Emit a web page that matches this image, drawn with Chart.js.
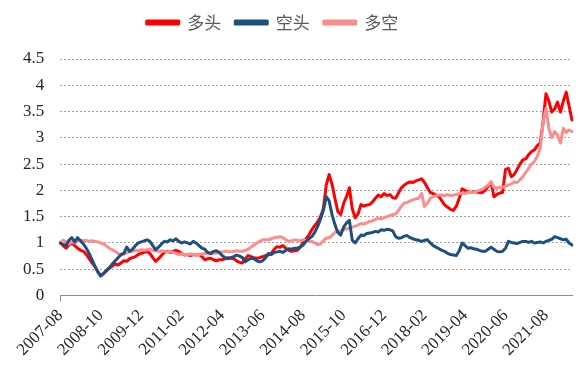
<!DOCTYPE html>
<html>
<head>
<meta charset="utf-8">
<script src="https://cdn.jsdelivr.net/npm/chart.js@4/dist/chart.umd.min.js"></script>
<style>
html,body{margin:0;padding:0;background:#fff;}
#wrap{width:579px;height:375px;position:relative;}
</style>
</head>
<body>
<div id="wrap"><canvas id="c" width="579" height="375"></canvas></div>
<script>
// Monthly categories 2007-08 .. 2022-05
const months = [];
for (let y = 2007, m = 8; months.length < 178; ) {
  months.push(y + '-' + String(m).padStart(2, '0'));
  m++; if (m > 12) { m = 1; y++; }
}
const tickEvery = 14;
const yTicks = [0, 0.5, 1, 1.5, 2, 2.5, 3, 3.5, 4, 4.5];

const longSeries = [
  1.00, 0.95, 0.90, 0.96, 1.00, 0.95, 0.90, 0.86, 0.84, 0.78, 0.70, 0.62,
  0.55, 0.45, 0.38, 0.42, 0.47, 0.52, 0.56, 0.60, 0.58, 0.62, 0.66, 0.65,
  0.70, 0.72, 0.74, 0.78, 0.80, 0.82, 0.84, 0.80, 0.72, 0.65, 0.70, 0.76,
  0.82, 0.84, 0.82, 0.84, 0.86, 0.84, 0.80, 0.77, 0.78, 0.76, 0.78, 0.77,
  0.78, 0.74, 0.68, 0.70, 0.71, 0.68, 0.66, 0.68, 0.68, 0.70, 0.72, 0.71,
  0.70, 0.66, 0.63, 0.62, 0.70, 0.76, 0.74, 0.72, 0.71, 0.72, 0.74, 0.76,
  0.77, 0.80, 0.88, 0.93, 0.92, 0.95, 0.90, 0.86, 0.84, 0.85, 0.86, 0.92,
  1.00, 1.08, 1.15, 1.25, 1.33, 1.40, 1.50, 1.65, 2.10, 2.30, 2.12, 1.85,
  1.60, 1.54, 1.75, 1.88, 2.05, 1.65, 1.48, 1.55, 1.73, 1.70, 1.72, 1.73,
  1.78, 1.85, 1.91, 1.88, 1.94, 1.90, 1.92, 1.86, 1.85, 1.95, 2.05, 2.10,
  2.14, 2.16, 2.15, 2.18, 2.20, 2.22, 2.15, 2.05, 1.96, 1.94, 1.91, 1.88,
  1.80, 1.72, 1.68, 1.64, 1.62, 1.70, 1.85, 2.03, 2.00, 1.97, 1.96, 1.98,
  1.97, 1.96, 1.96, 2.00, 2.08, 2.16, 1.88, 1.92, 1.95, 1.96, 2.40, 2.42,
  2.26, 2.30, 2.40, 2.50, 2.58, 2.60, 2.68, 2.74, 2.77, 2.85, 2.90, 3.30,
  3.84, 3.70, 3.49, 3.55, 3.68, 3.49, 3.70, 3.87, 3.60, 3.34
];
const shortSeries = [
  1.00, 0.97, 0.95, 1.05, 1.10, 1.02, 1.10, 1.04, 0.98, 0.90, 0.80, 0.68,
  0.56, 0.45, 0.37, 0.42, 0.48, 0.53, 0.60, 0.66, 0.72, 0.78, 0.80, 0.92,
  0.84, 0.88, 0.95, 1.00, 1.02, 1.04, 1.06, 1.03, 0.95, 0.87, 0.92, 0.98,
  1.03, 1.02, 1.06, 1.04, 1.08, 1.03, 1.00, 1.02, 1.00, 0.98, 1.03, 1.00,
  0.95, 0.90, 0.88, 0.82, 0.80, 0.84, 0.85, 0.82, 0.76, 0.72, 0.70, 0.72,
  0.74, 0.77, 0.75, 0.72, 0.64, 0.68, 0.71, 0.70, 0.66, 0.64, 0.66, 0.72,
  0.80, 0.78, 0.82, 0.83, 0.84, 0.82, 0.86, 0.89, 0.88, 0.90, 0.90, 0.92,
  0.96, 1.03, 1.08, 1.12, 1.20, 1.31, 1.45, 1.62, 1.88, 1.80, 1.54, 1.35,
  1.20, 1.15, 1.30, 1.38, 1.43, 1.05, 1.00, 1.08, 1.15, 1.14, 1.18, 1.19,
  1.20, 1.22, 1.21, 1.25, 1.24, 1.26, 1.25, 1.23, 1.12, 1.09, 1.10, 1.13,
  1.14, 1.10, 1.08, 1.06, 1.05, 1.03, 1.05, 1.06, 1.00, 0.95, 0.92, 0.89,
  0.86, 0.84, 0.80, 0.78, 0.77, 0.76, 0.85, 1.00, 0.95, 0.90, 0.91, 0.89,
  0.88, 0.86, 0.84, 0.84, 0.88, 0.92, 0.88, 0.84, 0.83, 0.84, 0.90, 1.03,
  1.01, 1.00, 0.99, 1.01, 1.03, 1.03, 1.01, 1.03, 1.00, 1.01, 1.02, 1.00,
  1.03, 1.05, 1.07, 1.12, 1.10, 1.08, 1.06, 1.07, 1.00, 0.96
];
const longShortSeries = [
  1.00, 1.05, 1.02, 0.98, 1.02, 1.00, 1.03, 1.05, 1.04, 1.05, 1.03, 1.04,
  1.03, 1.02, 1.00, 0.98, 0.94, 0.90, 0.87, 0.84, 0.80, 0.77, 0.79, 0.81,
  0.83, 0.84, 0.86, 0.85, 0.87, 0.86, 0.87, 0.88, 0.86, 0.85, 0.84, 0.85,
  0.84, 0.83, 0.84, 0.82, 0.80, 0.78, 0.79, 0.78, 0.78, 0.79, 0.78, 0.78,
  0.78, 0.79, 0.80, 0.80, 0.79, 0.80, 0.81, 0.82, 0.83, 0.84, 0.84, 0.83,
  0.84, 0.85, 0.84, 0.84, 0.86, 0.88, 0.92, 0.96, 1.00, 1.03, 1.06, 1.06,
  1.06, 1.08, 1.10, 1.11, 1.12, 1.10, 1.06, 1.03, 1.04, 1.06, 1.05, 1.04,
  1.06, 1.05, 1.03, 1.03, 1.00, 0.97, 0.98, 1.04, 1.09, 1.10, 1.14, 1.20,
  1.22, 1.23, 1.25, 1.27, 1.28, 1.30, 1.32, 1.34, 1.37, 1.36, 1.38, 1.41,
  1.42, 1.45, 1.47, 1.46, 1.48, 1.50, 1.52, 1.54, 1.55, 1.62, 1.70, 1.76,
  1.77, 1.80, 1.82, 1.84, 1.85, 1.94, 1.69, 1.76, 1.85, 1.88, 1.90, 1.91,
  1.91, 1.90, 1.92, 1.90, 1.91, 1.92, 1.94, 1.95, 1.94, 1.96, 1.96, 1.97,
  1.98, 2.00, 2.02, 2.06, 2.10, 2.16, 2.06, 2.04, 2.06, 2.06, 2.08, 2.10,
  2.12, 2.16, 2.15, 2.20, 2.26, 2.34, 2.42, 2.50, 2.55, 2.65, 2.80, 3.30,
  3.56, 3.18, 3.00, 3.12, 3.05, 2.90, 3.18, 3.10, 3.15, 3.12
];

const seriesNames = ['多头', '空头', '多空'];
const seriesColors = ['#FF0000', '#1B5080', '#FF8C8C'];

new Chart(document.getElementById('c'), {
  type: 'line',
  data: {
    labels: months,
    datasets: [
      { label: seriesNames[0], data: longSeries, borderColor: seriesColors[0], backgroundColor: seriesColors[0], order: 3 },
      { label: seriesNames[1], data: shortSeries, borderColor: seriesColors[1], backgroundColor: seriesColors[1], order: 1 },
      { label: seriesNames[2], data: longShortSeries, borderColor: seriesColors[2], backgroundColor: seriesColors[2], order: 2 }
    ]
  },
  options: {
    responsive: false,
    animation: false,
    devicePixelRatio: 1,
    elements: {
      line: { borderWidth: 3, tension: 0, borderJoinStyle: 'round', borderCapStyle: 'round' },
      point: { radius: 0, hoverRadius: 0 }
    },
    layout: { padding: { left: 7, right: 7, top: 0, bottom: 11 } },
    plugins: {
      tooltip: { enabled: false },
      legend: {
        position: 'top',
        labels: {
          boxWidth: 32,
          boxHeight: 3,
          padding: 14,
          color: '#595959',
          font: { family: '"Noto Sans CJK SC", sans-serif', size: 17 },
          sort: (a, b) => a.datasetIndex - b.datasetIndex
        }
      }
    },
    scales: {
      x: {
        type: 'category',
        offset: false,
        border: { display: true, color: '#8c8c8c', width: 1 },
        grid: {
          display: true,
          drawOnChartArea: false,
          drawTicks: true,
          tickLength: 6,
          color: (ctx) => (ctx.index % tickEvery === 0 ? '#8c8c8c' : 'rgba(0,0,0,0)')
        },
        ticks: {
          autoSkip: false,
          minRotation: 45,
          maxRotation: 45,
          padding: 4,
          color: '#262626',
          font: { family: '"Liberation Serif", "Times New Roman", serif', size: 17 },
          callback: function (v, i) { return i % tickEvery === 0 ? months[i] : null; }
        }
      },
      y: {
        min: 0,
        max: 4.5,
        border: { display: false, dash: [2, 2] },
        grid: {
          color: (ctx) => (ctx.tick && ctx.tick.value === 0 ? 'rgba(0,0,0,0)' : '#a0a0a0'),
          lineWidth: 1,
          drawTicks: false
        },
        ticks: {
          stepSize: 0.5,
          padding: 16,
          color: '#262626',
          font: { family: '"Liberation Serif", "Times New Roman", serif', size: 17 },
          callback: function (v) { return yTicks.includes(v) ? String(v) : null; }
        }
      }
    }
  },
  plugins: [{
    id: 'legendGap',
    beforeInit(chart) {
      const lg = chart.legend;
      const fit = lg.fit;
      lg.fit = function () { fit.call(lg); lg.height += 18; };
    },
    afterLayout(chart) {
      chart.legend.left -= 17;
      chart.legend.right -= 17;
    }
  }]
});
</script>
</body>
</html>
